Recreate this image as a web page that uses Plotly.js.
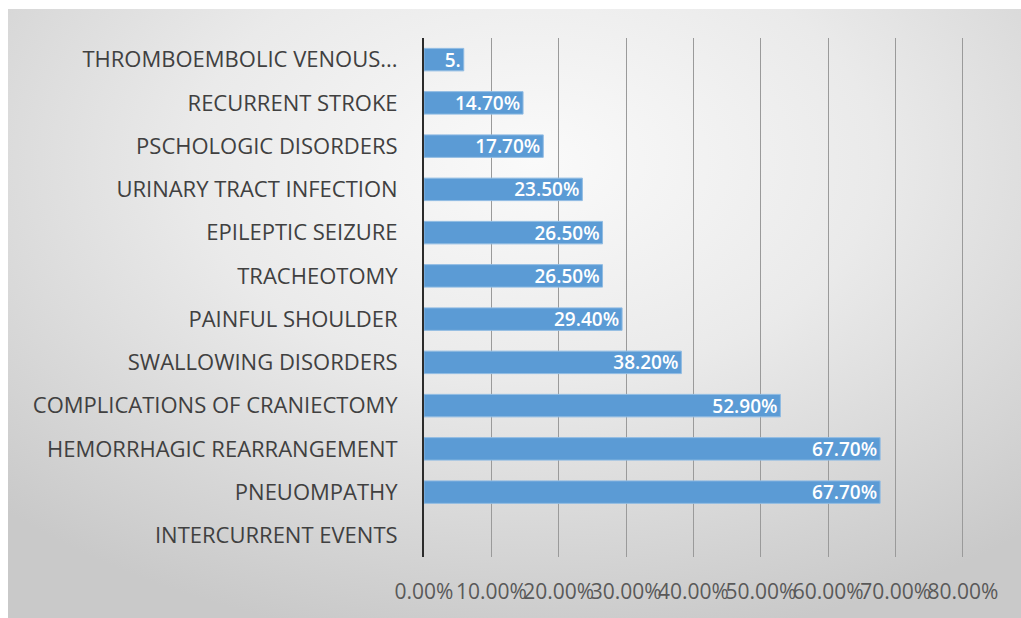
<!DOCTYPE html>
<html>
<head>
<meta charset="utf-8">
<script src="https://cdn.plot.ly/plotly-3.0.1.min.js"></script>
<style>
  html, body { margin: 0; padding: 0; background: #ffffff; }
  #bg { position: absolute; left: 8px; top: 9px; width: 1013px; height: 609px;
        background: radial-gradient(ellipse 75% 80% at 52% 25%, #fafafa 0%, #eaeaea 45%, #d2d2d2 85%, #c9c9c9 100%); }
  #chart { position: absolute; left: 0; top: 0; width: 1021px; height: 618px; }
</style>
</head>
<body>
<div id="bg"></div>
<div id="chart"></div>
<script>
const categories = [
  "THROMBOEMBOLIC VENOUS...",
  "RECURRENT STROKE",
  "PSCHOLOGIC DISORDERS",
  "URINARY TRACT INFECTION",
  "EPILEPTIC SEIZURE",
  "TRACHEOTOMY",
  "PAINFUL SHOULDER",
  "SWALLOWING DISORDERS",
  "COMPLICATIONS OF CRANIECTOMY",
  "HEMORRHAGIC REARRANGEMENT",
  "PNEUOMPATHY",
  "INTERCURRENT EVENTS"
];
const values = [0.059, 0.147, 0.177, 0.235, 0.265, 0.265, 0.294, 0.382, 0.529, 0.677, 0.677, null];
const labels = ["5.", "14.70%", "17.70%", "23.50%", "26.50%", "26.50%", "29.40%", "38.20%", "52.90%", "67.70%", "67.70%", ""];
const tickVals = [0, 0.1, 0.2, 0.3, 0.4, 0.5, 0.6, 0.7, 0.8];
const tickText = ["0.00%", "10.00%", "20.00%", "30.00%", "40.00%", "50.00%", "60.00%", "70.00%", "80.00%"];

const FONT = "Open Sans, sans-serif";

const trace = {
  type: "bar",
  orientation: "h",
  y: categories,
  x: values,
  text: labels,
  textposition: "inside",
  insidetextanchor: "end",
  textangle: 0,
  constraintext: "none",
  textfont: { family: FONT, size: 19, color: "#ffffff", weight: 600 },
  marker: { color: "#5b9bd5", line: { color: "#8fbbe3", width: 1 } },
  width: 0.52,
  hoverinfo: "none"
};

const layout = {
  width: 1021,
  height: 618,
  margin: { l: 424, r: 57, t: 38, b: 61 },
  paper_bgcolor: "rgba(0,0,0,0)",
  plot_bgcolor: "rgba(0,0,0,0)",
  showlegend: false,
  xaxis: {
    range: [0, 0.8015],
    tickvals: tickVals,
    ticktext: tickText,
    tickangle: 0,
    showgrid: true,
    gridcolor: "#9a9a9a",
    gridwidth: 1,
    zeroline: false,
    showline: false,
    ticks: "",
    ticklabelstandoff: 20,
    tickfont: { family: FONT, size: 21, color: "#595959" },
    fixedrange: true
  },
  yaxis: {
    type: "category",
    autorange: "reversed",
    showgrid: false,
    zeroline: false,
    showline: true,
    linecolor: "#2b2b2b",
    linewidth: 2,
    ticks: "",
    ticklabelstandoff: 20,
    tickfont: { family: FONT, size: 22, color: "#404040" },
    fixedrange: true
  }
};

Plotly.newPlot("chart", [trace], layout, { displayModeBar: false, staticPlot: true });
</script>
</body>
</html>
